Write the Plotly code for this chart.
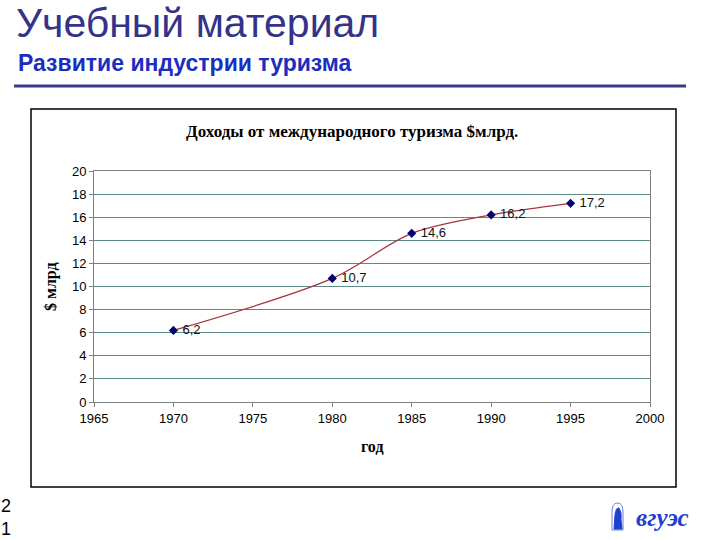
import plotly.graph_objects as go

years = [1970, 1980, 1985, 1990, 1995]
income = [6.2, 10.7, 14.6, 16.2, 17.2]
labels = ["6,2", "10,7", "14,6", "16,2", "17,2"]
x_ticks = [1965, 1970, 1975, 1980, 1985, 1990, 1995, 2000]
y_ticks = [0, 2, 4, 6, 8, 10, 12, 14, 16, 18, 20]

W, H = 720, 540
def px(x): return x / W
def py(y): return 1 - y / H

fig = go.Figure()
fig.add_trace(go.Scatter(
    x=years, y=income, mode="lines+markers+text",
    line=dict(color="#a8343c", width=1.2, shape="spline", smoothing=0.9),
    marker=dict(symbol="diamond", size=7, color="#000070"),
    text=[" " + t for t in labels], textposition="middle right",
    textfont=dict(family="Liberation Sans, Arial", size=13, color="#111111"),
    showlegend=False, cliponaxis=False,
))

# logo emblem (arch outline + figure)
arch = (f"M {px(612)},{py(530)} L {px(612)},{py(512)} "
        f"Q {px(612)},{py(503)} {px(617.5)},{py(503)} "
        f"Q {px(623)},{py(503)} {px(623)},{py(512)} L {px(623)},{py(530)} Z")
figure_path = (f"M {px(614)},{py(529)} L {px(615)},{py(515)} "
               f"Q {px(616)},{py(507)} {px(619)},{py(508)} "
               f"Q {px(622)},{py(512)} {px(621)},{py(520)} L {px(622)},{py(529)} Z")

fig.update_layout(
    width=W, height=H, margin=dict(l=0, r=0, t=0, b=0, pad=0, autoexpand=False),
    paper_bgcolor="white", plot_bgcolor="#ccffff",
    xaxis=dict(domain=[px(94), px(650)], range=[1965, 2000], tickvals=x_ticks,
               showgrid=False, zeroline=False, showline=True, linecolor="#808080",
               linewidth=1, ticks="outside", ticklen=4, tickcolor="#808080",
               tickfont=dict(family="Liberation Sans, Arial", size=13, color="black"),
               mirror=True, fixedrange=True, automargin=False),
    yaxis=dict(domain=[py(402), py(171)], range=[0, 20], tickvals=y_ticks,
               showgrid=True, gridcolor="#5c8a8a", gridwidth=1, zeroline=False,
               showline=True, linecolor="#808080", linewidth=1, mirror=True,
               ticks="outside", ticklen=4, tickcolor="#808080",
               tickfont=dict(family="Liberation Sans, Arial", size=13, color="black"),
               fixedrange=True, automargin=False),
    shapes=[
        dict(type="rect", xref="paper", yref="paper", x0=px(31), x1=px(676),
             y0=py(487), y1=py(109), line=dict(color="black", width=1.5),
             fillcolor="white", layer="below"),
        dict(type="line", xref="paper", yref="paper", x0=px(14), x1=px(686),
             y0=py(86), y1=py(86), line=dict(color="#3a3a88", width=3)),
        dict(type="path", xref="paper", yref="paper", path=arch,
             line=dict(color="#6a80d8", width=1), fillcolor="white"),
        dict(type="path", xref="paper", yref="paper", path=figure_path,
             line=dict(color="#1f3fd0", width=1), fillcolor="#1f3fd0"),
    ],
    annotations=[
        dict(text="Учебный материал", xref="paper", yref="paper", x=px(14), y=py(23),
             xanchor="left", yanchor="middle", showarrow=False,
             font=dict(family="Liberation Sans, Arial", size=41, color="#33338a")),
        dict(text="<b>Развитие индустрии туризма</b>", xref="paper", yref="paper",
             x=px(16), y=py(63), xanchor="left", yanchor="middle", showarrow=False,
             font=dict(family="Liberation Sans, Arial", size=23, color="#1a2ec0")),
        dict(text="<b>Доходы от международного туризма $млрд.</b>", xref="paper",
             yref="paper", x=px(352), y=py(131), xanchor="center", yanchor="middle",
             showarrow=False,
             font=dict(family="Liberation Serif, Times New Roman", size=17, color="black")),
        dict(text="<b>$ млрд</b>", xref="paper", yref="paper", x=px(51), y=py(287),
             xanchor="center", yanchor="middle", textangle=-90, showarrow=False,
             font=dict(family="Liberation Serif, Times New Roman", size=16, color="black")),
        dict(text="<b>год</b>", xref="paper", yref="paper", x=px(372), y=py(446),
             xanchor="center", yanchor="middle", showarrow=False,
             font=dict(family="Liberation Serif, Times New Roman", size=16, color="black")),
        dict(text="2<br>1", xref="paper", yref="paper", x=px(-1), y=py(517),
             xanchor="left", yanchor="middle", align="left", showarrow=False,
             font=dict(family="Liberation Sans, Arial", size=18, color="black")),
        dict(text="<b><i>вгуэс</i></b>", xref="paper", yref="paper", x=px(662), y=py(517),
             xanchor="center", yanchor="middle", showarrow=False,
             font=dict(family="Liberation Serif, Times New Roman", size=25, color="#1f3fd0")),
    ],
)
fig.write_html("out.html",
               post_script="document.body.style.margin='0';document.body.style.overflow='hidden';")
